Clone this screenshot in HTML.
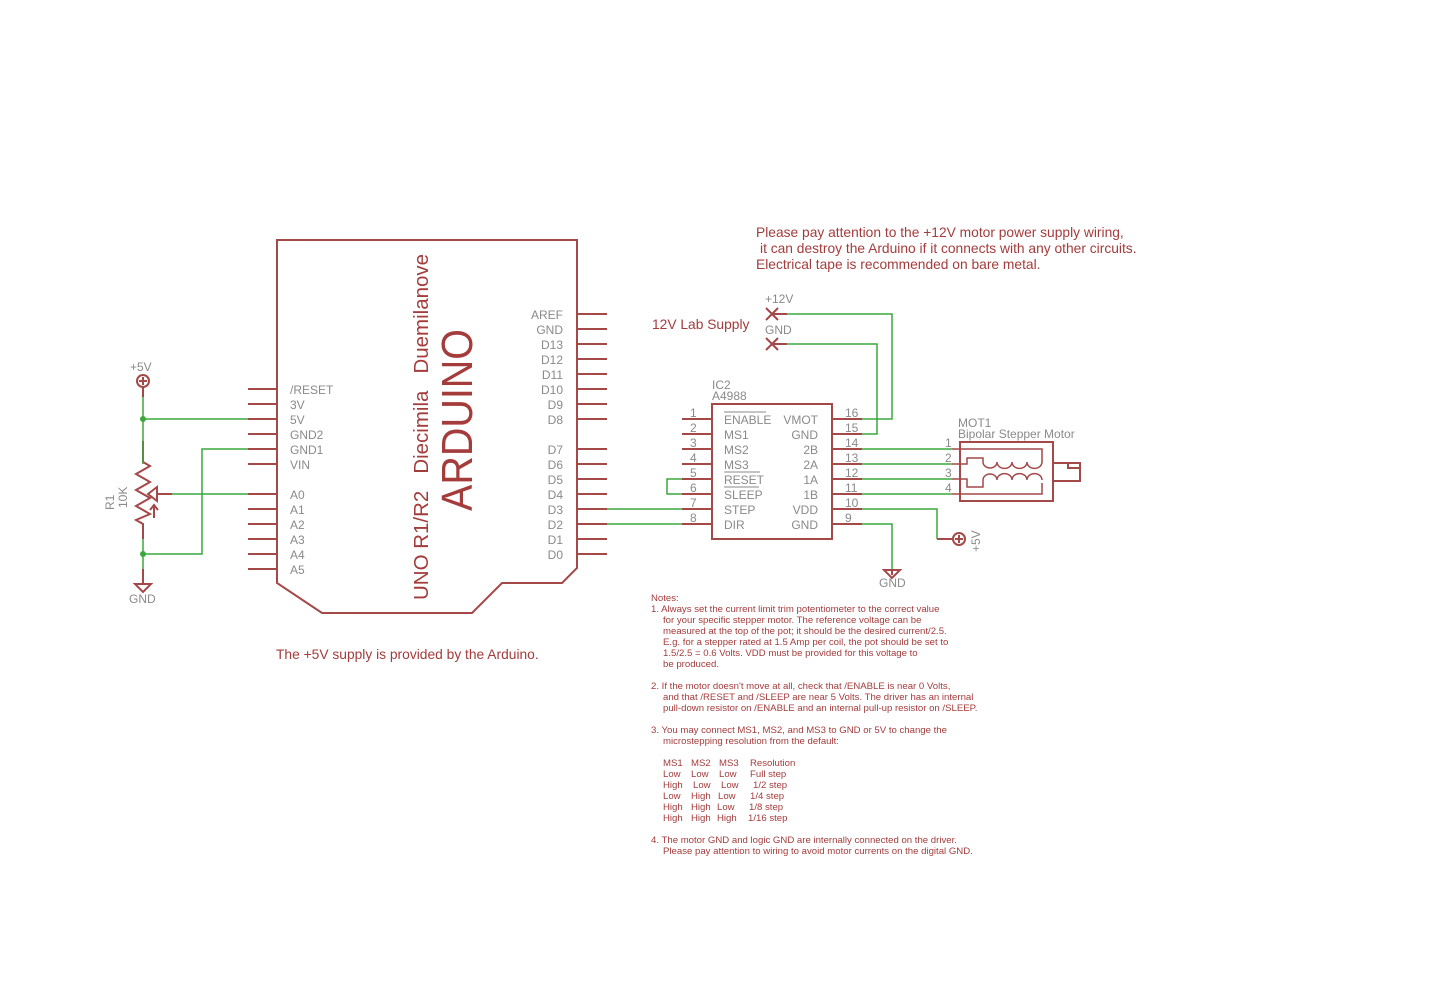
<!DOCTYPE html>
<html><head><meta charset="utf-8"><style>
html,body{margin:0;padding:0;background:#fff;}
svg{display:block;}
text{font-family:"Liberation Sans","DejaVu Sans",sans-serif;}
.g{fill:#8a8a8a;font-size:12px;}
.r{fill:#a43c3c;}
</style></head><body>
<svg width="1439" height="1000" viewBox="0 0 1439 1000" xmlns="http://www.w3.org/2000/svg">
<g fill="none" stroke="#a44848" stroke-width="2">
<path d="M277,240 H577 V568 L562,583 H502 L472,613 H322 L277,583 Z"/>
<path d="M248,389H277M248,404H277M248,419H277M248,434H277M248,449H277M248,464H277M248,494H277M248,509H277M248,524H277M248,539H277M248,554H277M248,569H277"/>
<path d="M577,314H607M577,329H607M577,344H607M577,359H607M577,374H607M577,389H607M577,404H607M577,419H607M577,449H607M577,464H607M577,479H607M577,494H607M577,509H607M577,524H607M577,539H607M577,554H607"/>
<rect x="712" y="404" width="120" height="135"/>
<path d="M682,419H712M682,434H712M682,449H712M682,464H712M682,479H712M682,494H712M682,509H712M682,524H712"/>
<path d="M832,419H862M832,434H862M832,449H862M832,464H862M832,479H862M832,494H862M832,509H862M832,524H862"/>
<rect x="960" y="442" width="93" height="59"/>
<rect x="1053" y="463" width="27" height="18"/>
<path d="M1068,463V468H1080"/>
<path d="M952,449H1042V462M952,464H967V458H983V462M952,479H967V487H983V480M952,494H1042V483" stroke-width="1.5"/>
<path d="M983,462 a7,6 0 0 0 14,0 a7,6 0 0 0 15,0 a7,6 0 0 0 15,0 a7,6 0 0 0 15,0" stroke-width="1.5"/>
<path d="M983,480 a7,6 0 0 1 14,0 a7,6 0 0 1 15,0 a7,6 0 0 1 15,0 a7,6 0 0 1 15,0" stroke-width="1.5"/>
<path d="M766,308L778,320M778,308L766,320M766,338L778,350M778,338L766,350"/>
<path d="M772,314H787M772,344H787"/>
<circle cx="959" cy="539" r="6"/>
<path d="M955,539H963M959,535V543M937,539H953"/>
<path d="M892,569V575M884,570H900L892,578Z"/>
<circle cx="143" cy="381" r="6"/>
<path d="M139,381H147M143,377V385M143,387V397"/>
<path d="M143,441V462 L150,466 L136,474 L150,482 L136,490 L150,498 L136,506 L150,514 L136,520 L143,524 V539"/>
<path d="M143,569V583M135,584H151L143,592Z"/>
<path d="M148,494 L157,487 V501 Z M157,494H172 M154,518V505 M150,510L154,505L158,510"/>
</g>
<g fill="none" stroke="#3aa83a" stroke-width="1.5">
<path d="M143,397V464M143,419H248M143,539V569M143,554H202V449H248M172,494H248"/>
<path d="M607,509H682M607,524H682"/>
<path d="M682,479H667V494H682"/>
<path d="M862,419H892V314H787M862,434H877V344H787"/>
<path d="M862,449H952M862,464H952M862,479H952M862,494H952"/>
<path d="M862,509H937V539M862,524H892V569"/>
</g>
<g fill="#3aa83a"><circle cx="143" cy="419" r="3"/><circle cx="143" cy="554" r="3"/></g>

<g class="g">
<text x="290" y="394">/RESET</text><text x="290" y="409">3V</text><text x="290" y="424">5V</text>
<text x="290" y="439">GND2</text><text x="290" y="454">GND1</text><text x="290" y="469">VIN</text>
<text x="290" y="499">A0</text><text x="290" y="514">A1</text><text x="290" y="529">A2</text>
<text x="290" y="544">A3</text><text x="290" y="559">A4</text><text x="290" y="574">A5</text>
</g>
<g class="g" text-anchor="end">
<text x="563" y="319">AREF</text><text x="563" y="334">GND</text><text x="563" y="349">D13</text>
<text x="563" y="364">D12</text><text x="563" y="379">D11</text><text x="563" y="394">D10</text>
<text x="563" y="409">D9</text><text x="563" y="424">D8</text><text x="563" y="454">D7</text>
<text x="563" y="469">D6</text><text x="563" y="484">D5</text><text x="563" y="499">D4</text>
<text x="563" y="514">D3</text><text x="563" y="529">D2</text><text x="563" y="544">D1</text>
<text x="563" y="559">D0</text>
</g>
<text class="r" transform="translate(472,511) rotate(-90)" font-size="44" textLength="182" lengthAdjust="spacingAndGlyphs">ARDUINO</text>
<text class="r" transform="translate(428,600) rotate(-90)" font-size="20" xml:space="preserve" textLength="346" lengthAdjust="spacingAndGlyphs">UNO R1/R2   Diecimila   Duemilanove</text>

<g class="g" font-size="9"><text x="712" y="389">IC2</text><text x="712" y="400">A4988</text></g>
<g class="g">
<text x="724" y="424">ENABLE</text><text x="724" y="439">MS1</text><text x="724" y="454">MS2</text>
<text x="724" y="469">MS3</text><text x="724" y="484">RESET</text><text x="724" y="499">SLEEP</text>
<text x="724" y="514">STEP</text><text x="724" y="529">DIR</text>
</g>
<path d="M724,412H766M724,472H760M724,487H759" stroke="#8a8a8a" stroke-width="1"/>
<g class="g" text-anchor="end">
<text x="818" y="424">VMOT</text><text x="818" y="439">GND</text><text x="818" y="454">2B</text>
<text x="818" y="469">2A</text><text x="818" y="484">1A</text><text x="818" y="499">1B</text>
<text x="818" y="514">VDD</text><text x="818" y="529">GND</text>
</g>
<g class="g">
<text x="690" y="417">1</text><text x="690" y="432">2</text><text x="690" y="447">3</text><text x="690" y="462">4</text>
<text x="690" y="492">6</text><text x="690" y="507">7</text><text x="690" y="522">8</text><text x="690" y="477">5</text>
<text x="845" y="417">16</text><text x="845" y="432">15</text><text x="845" y="447">14</text><text x="845" y="462">13</text>
<text x="845" y="477">12</text><text x="845" y="492">11</text><text x="845" y="507">10</text><text x="845" y="522">9</text>
<text x="945" y="447">1</text><text x="945" y="462">2</text><text x="945" y="477">3</text><text x="945" y="492">4</text>
</g>
<g class="g" font-size="9"><text x="958" y="427">MOT1</text><text x="958" y="438">Bipolar Stepper Motor</text></g>
<g class="g">
<text x="765" y="303">+12V</text><text x="765" y="334">GND</text>
<text x="879" y="587">GND</text><text x="129" y="603">GND</text><text x="130" y="371">+5V</text>
</g>
<text class="g" transform="translate(980,552) rotate(-90)">+5V</text>
<text class="g" transform="translate(114,510) rotate(-90)">R1</text>
<text class="g" transform="translate(127,508) rotate(-90)">10K</text>

<g class="r" font-size="13.8">
<text x="756" y="237">Please pay attention to the +12V motor power supply wiring,</text>
<text x="760" y="253">it can destroy the Arduino if it connects with any other circuits.</text>
<text x="756" y="269">Electrical tape is recommended on bare metal.</text>
<text x="652" y="329">12V Lab Supply</text>
<text x="276" y="659">The +5V supply is provided by the Arduino.</text>
</g>
<g class="r" font-size="9.6">
<text x="651" y="601">Notes:</text>
<text x="651" y="612">1. Always set the current limit trim potentiometer to the correct value</text>
<text x="663" y="623">for your specific stepper motor.  The reference voltage can be</text>
<text x="663" y="634">measured at the top of the pot; it should be the desired current/2.5.</text>
<text x="663" y="645">E.g. for a stepper rated at 1.5 Amp per coil, the pot should be set to</text>
<text x="663" y="656">1.5/2.5 = 0.6 Volts.  VDD must be provided for this voltage to</text>
<text x="663" y="667">be produced.</text>
<text x="651" y="689">2. If the motor doesn't move at all, check that /ENABLE is near 0 Volts,</text>
<text x="663" y="700">and that /RESET and /SLEEP are near 5 Volts. The driver has an internal</text>
<text x="663" y="711">pull-down resistor on /ENABLE and an internal pull-up resistor on /SLEEP.</text>
<text x="651" y="733">3. You may connect MS1, MS2, and MS3 to GND or 5V to change the</text>
<text x="663" y="744">microstepping resolution from the default:</text>
<text x="663" y="766">MS1</text><text x="691" y="766">MS2</text><text x="719" y="766">MS3</text><text x="750" y="766">Resolution</text>
<text x="663" y="777">Low</text><text x="691" y="777">Low</text><text x="719" y="777">Low</text><text x="750" y="777">Full step</text>
<text x="663" y="788">High</text><text x="693" y="788">Low</text><text x="721" y="788">Low</text><text x="753" y="788">1/2 step</text>
<text x="663" y="799">Low</text><text x="691" y="799">High</text><text x="718" y="799">Low</text><text x="750" y="799">1/4 step</text>
<text x="663" y="810">High</text><text x="691" y="810">High</text><text x="717" y="810">Low</text><text x="749" y="810">1/8 step</text>
<text x="663" y="821">High</text><text x="691" y="821">High</text><text x="717" y="821">High</text><text x="748" y="821">1/16 step</text>
<text x="651" y="843">4. The motor GND and logic GND are internally connected on the driver.</text>
<text x="663" y="854">Please pay attention to wiring to avoid motor currents on the digital GND.</text>
</g>
</svg>
</body></html>
